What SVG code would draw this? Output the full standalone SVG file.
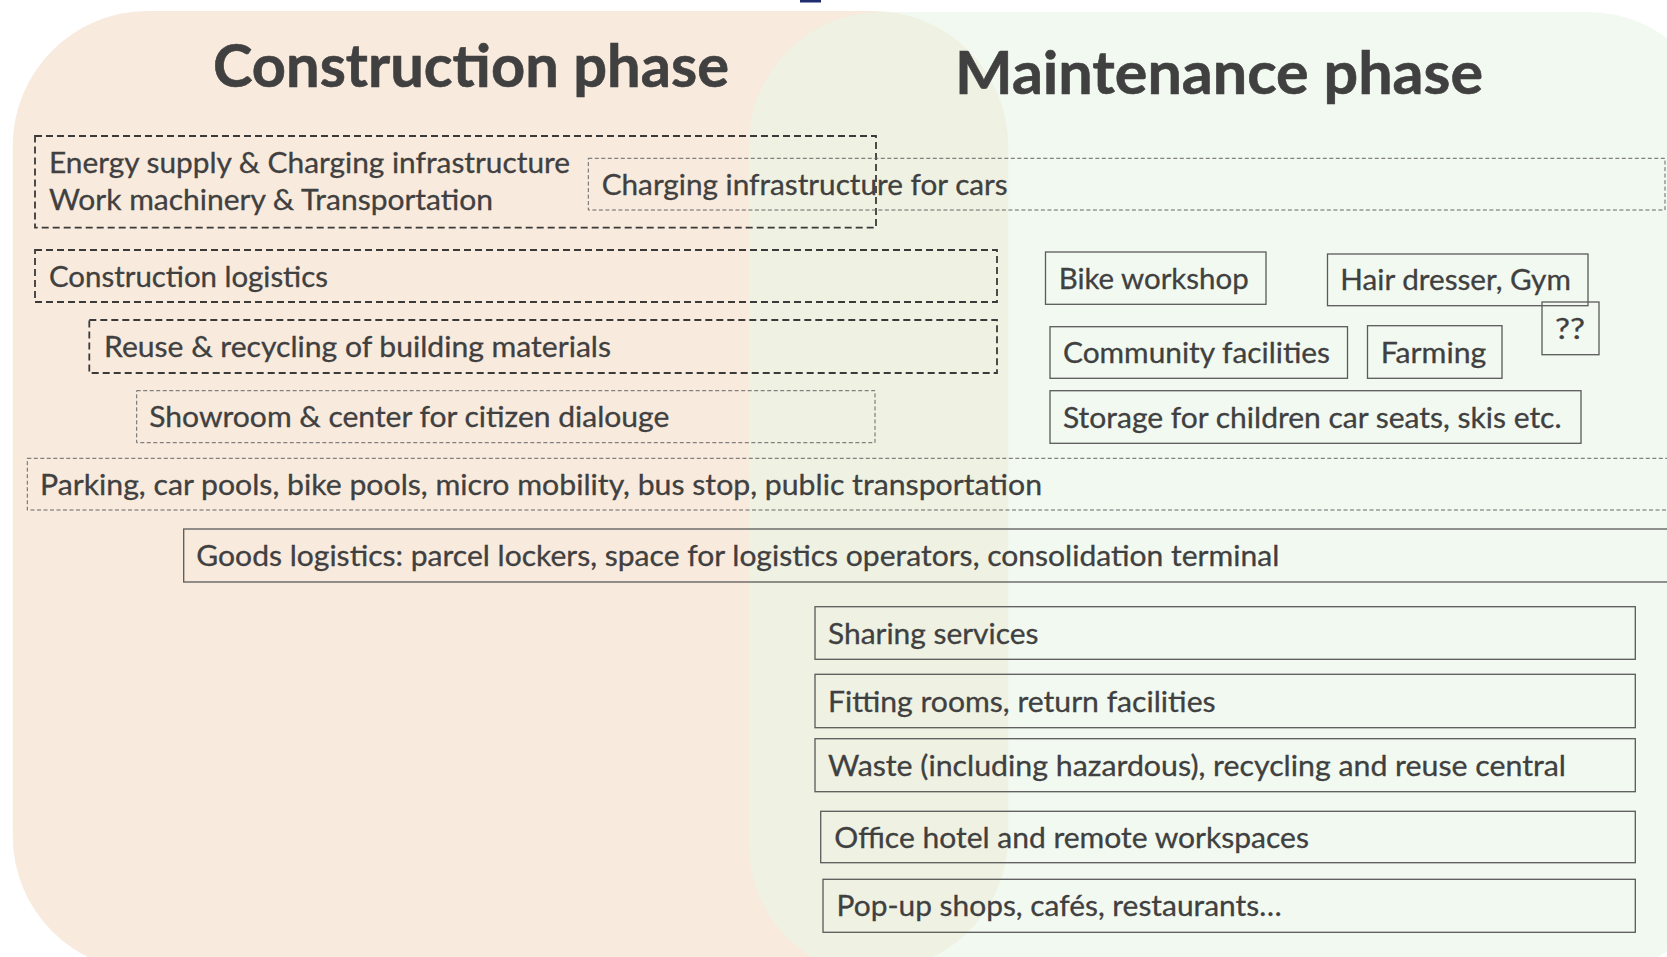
<svg xmlns="http://www.w3.org/2000/svg" width="1667" height="957" viewBox="0 0 1667 957">
  <style>
    .title { font-family: Lato, "Open Sans", "Liberation Sans", sans-serif; font-weight: 700; font-size: 60px; fill: #404040; stroke: #404040; stroke-width: 0.6; }
    .lbl { font-family: Lato, "Open Sans", "Liberation Sans", sans-serif; font-size: 29px; fill: #404040; stroke: #404040; stroke-width: 0.3; }
    .dash-strong { fill: none; stroke: #3a3a3a; stroke-width: 1.8; stroke-dasharray: 7 4; }
    .dash-light { fill: none; stroke: #666666; stroke-width: 1; stroke-dasharray: 4 2.5; }
    .solid { fill: none; stroke: #5a5a5a; stroke-width: 1.3; }
  </style>

  <rect width="1667" height="957" fill="#ffffff"/>

  <!-- phase backgrounds -->
  <g id="phases">
    <rect id="construction-area" x="12.7" y="11" width="995.5" height="960" rx="135" ry="135" fill="#f8eadd"/>
    <rect id="maintenance-area" x="749" y="12" width="971" height="965" rx="132" ry="132" fill="#e9f5e8" fill-opacity="0.6"/>
  </g>

  <!-- small mark on the top edge -->
  <rect x="800" y="0" width="21" height="2.5" fill="#1f2d6e"/>

  <!-- headings -->
  <text class="title" x="213" y="87" textLength="516" lengthAdjust="spacingAndGlyphs">Construction phase</text>
  <text class="title" x="955" y="94" textLength="528" lengthAdjust="spacingAndGlyphs">Maintenance phase</text>

  <!-- construction-phase items -->
  <g id="energy-supply">
    <rect class="dash-strong" x="35" y="136" width="841" height="91.7"/>
    <text class="lbl" x="49" y="173.3" textLength="521" lengthAdjust="spacingAndGlyphs">Energy supply &amp; Charging infrastructure</text>
    <text class="lbl" x="49" y="209.5" textLength="444" lengthAdjust="spacingAndGlyphs">Work machinery &amp; Transportation</text>
  </g>

  <g id="charging-cars">
    <rect class="dash-light" x="588.3" y="158.3" width="1076.7" height="51.7"/>
    <text class="lbl" x="601.7" y="195" textLength="406" lengthAdjust="spacingAndGlyphs">Charging infrastructure for cars</text>
  </g>

  <g id="construction-logistics">
    <rect class="dash-strong" x="35" y="250" width="962" height="52"/>
    <text class="lbl" x="49" y="286.5" textLength="279" lengthAdjust="spacingAndGlyphs">Construction logistics</text>
  </g>

  <g id="reuse-recycling">
    <rect class="dash-strong" x="89.3" y="320" width="907.7" height="53"/>
    <text class="lbl" x="104" y="357" textLength="507" lengthAdjust="spacingAndGlyphs">Reuse &amp; recycling of building materials</text>
  </g>

  <g id="showroom">
    <rect class="dash-light" x="136.7" y="390.7" width="738.3" height="52"/>
    <text class="lbl" x="149.3" y="427" textLength="520" lengthAdjust="spacingAndGlyphs">Showroom &amp; center for citizen dialouge</text>
  </g>

  <g id="parking">
    <rect class="dash-light" x="27.3" y="458.3" width="1645" height="51.7"/>
    <text class="lbl" x="40" y="494.5" textLength="1002" lengthAdjust="spacingAndGlyphs">Parking, car pools, bike pools, micro mobility, bus stop, public transportation</text>
  </g>

  <g id="goods-logistics">
    <rect class="solid" x="183.7" y="529" width="1490" height="53"/>
    <text class="lbl" x="196.3" y="566" textLength="1083" lengthAdjust="spacingAndGlyphs">Goods logistics: parcel lockers, space for logistics operators, consolidation terminal</text>
  </g>

  <!-- maintenance-phase items -->
  <g id="bike-workshop">
    <rect class="solid" x="1045.5" y="252" width="220.5" height="52.3"/>
    <text class="lbl" x="1058.7" y="289" textLength="190" lengthAdjust="spacingAndGlyphs">Bike workshop</text>
  </g>

  <g id="hair-gym">
    <rect class="solid" x="1327.5" y="254" width="260.5" height="51.7"/>
    <text class="lbl" x="1340.3" y="290" textLength="230.5" lengthAdjust="spacingAndGlyphs">Hair dresser, Gym</text>
  </g>

  <g id="unknown">
    <rect class="solid" x="1542" y="302" width="57" height="52.7"/>
    <text class="lbl" x="1555" y="338.5" textLength="30" lengthAdjust="spacingAndGlyphs">??</text>
  </g>

  <g id="community">
    <rect class="solid" x="1050" y="326.7" width="297.5" height="51.6"/>
    <text class="lbl" x="1063" y="363" textLength="267" lengthAdjust="spacingAndGlyphs">Community facilities</text>
  </g>

  <g id="farming">
    <rect class="solid" x="1367.5" y="325.7" width="134.5" height="52.6"/>
    <text class="lbl" x="1380.7" y="362.5" textLength="105.5" lengthAdjust="spacingAndGlyphs">Farming</text>
  </g>

  <g id="storage">
    <rect class="solid" x="1050" y="390.7" width="531" height="52.6"/>
    <text class="lbl" x="1063" y="427.5" textLength="498.5" lengthAdjust="spacingAndGlyphs">Storage for children car seats, skis etc.</text>
  </g>

  <g id="sharing">
    <rect class="solid" x="815" y="606.7" width="820.3" height="52.6"/>
    <text class="lbl" x="828" y="643.5" textLength="210.5" lengthAdjust="spacingAndGlyphs">Sharing services</text>
  </g>

  <g id="fitting-rooms">
    <rect class="solid" x="815" y="674.3" width="820.3" height="53.4"/>
    <text class="lbl" x="828" y="711.5" textLength="387.6" lengthAdjust="spacingAndGlyphs">Fitting rooms, return facilities</text>
  </g>

  <g id="waste">
    <rect class="solid" x="815" y="738.7" width="820.3" height="53"/>
    <text class="lbl" x="828" y="775.7" textLength="738" lengthAdjust="spacingAndGlyphs">Waste (including hazardous), recycling and reuse central</text>
  </g>

  <g id="office-hotel">
    <rect class="solid" x="820.7" y="811.3" width="814.6" height="51.4"/>
    <text class="lbl" x="834.3" y="847.5" textLength="474.6" lengthAdjust="spacingAndGlyphs">Office hotel and remote workspaces</text>
  </g>

  <g id="popup">
    <rect class="solid" x="823" y="879.3" width="812.3" height="53"/>
    <text class="lbl" x="836.6" y="916.3" textLength="445" lengthAdjust="spacingAndGlyphs">Pop-up shops, cafés, restaurants…</text>
  </g>

  <!-- no connectors in this diagram -->
  <g id="connectors"/>
</svg>
